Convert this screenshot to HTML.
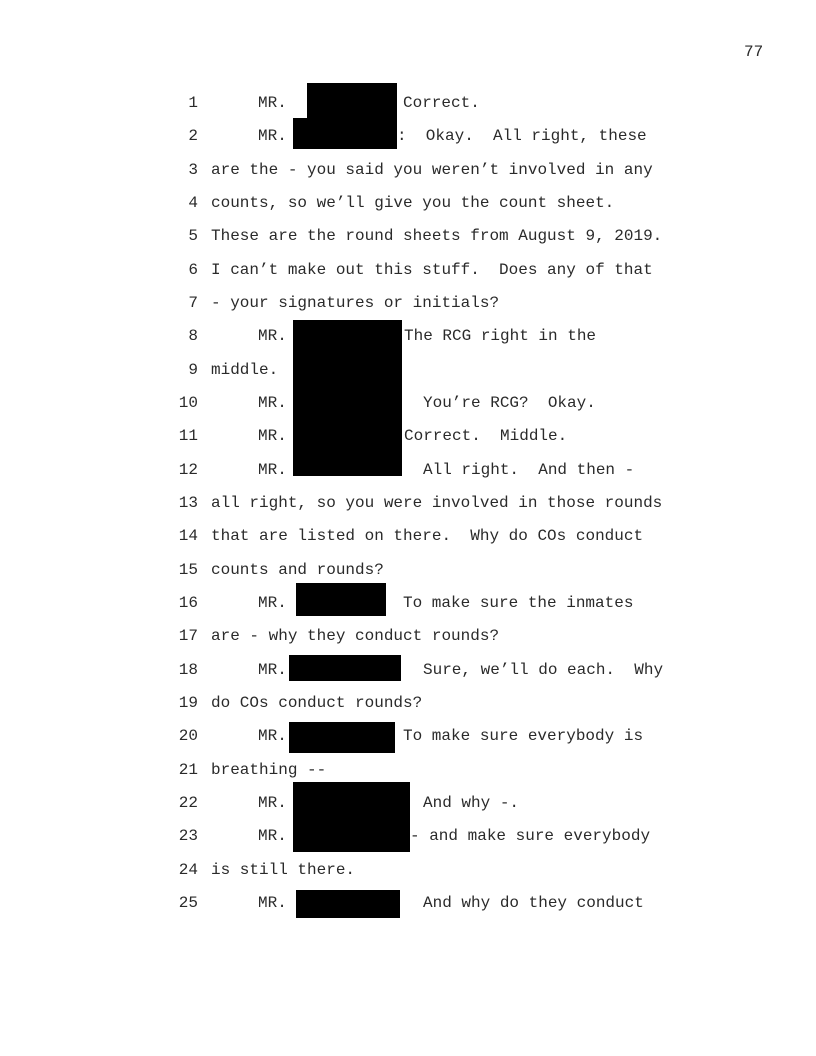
<!DOCTYPE html>
<html><head><meta charset="utf-8"><style>
body{margin:0;background:#fff;}
#p{position:relative;width:816px;height:1056px;overflow:hidden;font-family:"Liberation Mono",monospace;font-size:16px;color:#2a2a2a;}
.t{position:absolute;white-space:pre;line-height:20px;height:20px;}
.n{position:absolute;width:30px;text-align:right;left:168px;line-height:20px;}
.b{position:absolute;background:#000;}
</style></head><body><div id="p">
<div class="t" style="left:744px;top:42px">77</div>

<div class="b" style="left:307px;top:83px;width:90px;height:38px"></div>
<div class="b" style="left:293px;top:118px;width:104px;height:31px"></div>
<div class="b" style="left:293px;top:320px;width:109px;height:156px"></div>
<div class="b" style="left:296px;top:583px;width:90px;height:33px"></div>
<div class="b" style="left:289px;top:655px;width:112px;height:26px"></div>
<div class="b" style="left:289px;top:722px;width:106px;height:31px"></div>
<div class="b" style="left:293px;top:782px;width:117px;height:70px"></div>
<div class="b" style="left:296px;top:890px;width:104px;height:28px"></div>

<div class="n" style="top:93px">1</div><div class="t" style="left:258px;top:93px">MR.</div><div class="t" style="left:403px;top:93px">Correct.</div>
<div class="n" style="top:126px">2</div><div class="t" style="left:258px;top:126px">MR.</div><div class="t" style="left:397px;top:126px">:  Okay.  All right, these</div>
<div class="n" style="top:160px">3</div><div class="t" style="left:211px;top:160px">are the - you said you weren’t involved in any</div>
<div class="n" style="top:193px">4</div><div class="t" style="left:211px;top:193px">counts, so we’ll give you the count sheet.</div>
<div class="n" style="top:226px">5</div><div class="t" style="left:211px;top:226px">These are the round sheets from August 9, 2019.</div>
<div class="n" style="top:260px">6</div><div class="t" style="left:211px;top:260px">I can’t make out this stuff.  Does any of that</div>
<div class="n" style="top:293px">7</div><div class="t" style="left:211px;top:293px">- your signatures or initials?</div>
<div class="n" style="top:326px">8</div><div class="t" style="left:258px;top:326px">MR.</div><div class="t" style="left:404px;top:326px">The RCG right in the</div>
<div class="n" style="top:360px">9</div><div class="t" style="left:211px;top:360px">middle.</div>
<div class="n" style="top:393px">10</div><div class="t" style="left:258px;top:393px">MR.</div><div class="t" style="left:423px;top:393px">You’re RCG?  Okay.</div>
<div class="n" style="top:426px">11</div><div class="t" style="left:258px;top:426px">MR.</div><div class="t" style="left:404px;top:426px">Correct.  Middle.</div>
<div class="n" style="top:460px">12</div><div class="t" style="left:258px;top:460px">MR.</div><div class="t" style="left:423px;top:460px">All right.  And then -</div>
<div class="n" style="top:493px">13</div><div class="t" style="left:211px;top:493px">all right, so you were involved in those rounds</div>
<div class="n" style="top:526px">14</div><div class="t" style="left:211px;top:526px">that are listed on there.  Why do COs conduct</div>
<div class="n" style="top:560px">15</div><div class="t" style="left:211px;top:560px">counts and rounds?</div>
<div class="n" style="top:593px">16</div><div class="t" style="left:258px;top:593px">MR.</div><div class="t" style="left:403px;top:593px">To make sure the inmates</div>
<div class="n" style="top:626px">17</div><div class="t" style="left:211px;top:626px">are - why they conduct rounds?</div>
<div class="n" style="top:660px">18</div><div class="t" style="left:258px;top:660px">MR.</div><div class="t" style="left:423px;top:660px">Sure, we’ll do each.  Why</div>
<div class="n" style="top:693px">19</div><div class="t" style="left:211px;top:693px">do COs conduct rounds?</div>
<div class="n" style="top:726px">20</div><div class="t" style="left:258px;top:726px">MR.</div><div class="t" style="left:403px;top:726px">To make sure everybody is</div>
<div class="n" style="top:760px">21</div><div class="t" style="left:211px;top:760px">breathing --</div>
<div class="n" style="top:793px">22</div><div class="t" style="left:258px;top:793px">MR.</div><div class="t" style="left:423px;top:793px">And why -.</div>
<div class="n" style="top:826px">23</div><div class="t" style="left:258px;top:826px">MR.</div><div class="t" style="left:410px;top:826px">- and make sure everybody</div>
<div class="n" style="top:860px">24</div><div class="t" style="left:211px;top:860px">is still there.</div>
<div class="n" style="top:893px">25</div><div class="t" style="left:258px;top:893px">MR.</div><div class="t" style="left:423px;top:893px">And why do they conduct</div>
</div></body></html>
